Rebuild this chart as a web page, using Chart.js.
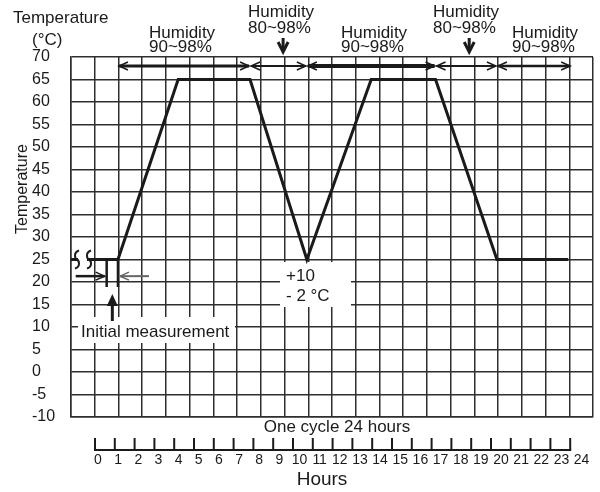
<!DOCTYPE html>
<html>
<head>
<meta charset="utf-8">
<script src="https://cdn.jsdelivr.net/npm/chart.js@4.4.1/dist/chart.umd.min.js"></script>
<style>
  html, body { margin: 0; padding: 0; background: #fff; }
  #wrap { width: 600px; height: 492px; }
</style>
</head>
<body>
<div id="wrap"><canvas id="myChart" width="600" height="492"></canvas></div>
<script>
// temperature profile (hours, degC)
var profileHours = [-1.21, 1.16, 4.2, 7.83, 10.7, 13.95, 17.2, 20.3, 23.9];
var profileTemps = [25, 25, 65, 65, 25, 65, 65, 25, 25];

// humidity phases: boundaries in hours and the range of each phase
var humidityBounds = [1.16, 7.83, 10.7, 17.2, 20.3, 24.05];
var humidityRanges = ["90~98%", "80~98%", "90~98%", "80~98%", "90~98%"];

// tick labels
var tempTicks = [-10, -5, 0, 5, 10, 15, 20, 25, 30, 35, 40, 45, 50, 55, 60, 65, 70];
var hourTicks = [0, 1, 2, 3, 4, 5, 6, 7, 8, 9, 10, 11, 12, 13, 14, 15, 16, 17, 18, 19, 20, 21, 22, 23, 24];

// initial measurement window (hours) and the tolerance note
var initialWindow = [0.59, 1.16];
var toleranceText = ["+10", "- 2 \u00b0C"];

var FONT = "'Liberation Sans', Arial, sans-serif";
var INK = "#1a1a1a";

function chevron(ctx, x, y, dir) {

  ctx.beginPath();
  ctx.moveTo(x - dir * 9, y - 4);
  ctx.lineTo(x, y);
  ctx.lineTo(x - dir * 9, y + 4);
  ctx.stroke();
}

function hline(ctx, x1, x2, y, w) {

  ctx.lineWidth = w;
  ctx.beginPath();
  ctx.moveTo(x1, y);
  ctx.lineTo(x2, y);
  ctx.stroke();
}

function squiggle(ctx, x, y) {

  ctx.beginPath();
  ctx.moveTo(x + 2, y - 9);
  ctx.bezierCurveTo(x - 4, y - 7, x - 2, y - 1, x, y);
  ctx.bezierCurveTo(x + 2, y + 1, x + 4, y + 7, x - 2, y + 9);
  ctx.stroke();
}

function downArrow(ctx, x) {

  ctx.lineWidth = 3;
  ctx.beginPath();
  ctx.moveTo(x, 38);
  ctx.lineTo(x, 50);
  ctx.stroke();
  ctx.beginPath();
  ctx.moveTo(x - 5, 42);
  ctx.lineTo(x, 52);
  ctx.lineTo(x + 5, 42);
  ctx.stroke();
}

var annotations = {
  id: "annotations",

  beforeDatasetsDraw: function(chart) {

    var ctx = chart.ctx;
    ctx.save();
    ctx.fillStyle = "#fff";
    ctx.fillRect(78, 317, 157, 26);   // "Initial measurement"
    ctx.fillRect(280, 262, 71, 45);   // tolerance note
    ctx.restore();
  },

  afterDatasetsDraw: function(chart) {

    var ctx = chart.ctx;
    var hx = chart.scales.hours;
    var y = chart.scales.y;

    ctx.save();
    ctx.strokeStyle = INK;
    ctx.fillStyle = INK;
    ctx.lineCap = "butt";

    // break marks on the 25 degree line
    var y25 = y.getPixelForValue(25);
    ctx.fillStyle = "#fff";
    ctx.fillRect(78, y25 - 3, 9, 6);
    ctx.fillStyle = INK;
    ctx.lineWidth = 2;
    squiggle(ctx, 77, y25);
    squiggle(ctx, 89, y25);

    // humidity arrows
    var widths = [3, 2, 4, 2, 2.5];
    var ya = 66;
    for (var i = 0; i < humidityRanges.length; i++) {

      var x1 = hx.getPixelForValue(humidityBounds[i]);
      var x2 = hx.getPixelForValue(humidityBounds[i + 1]);
      hline(ctx, x1 + 1, x2 - 1, ya, widths[i]);
      ctx.lineWidth = 1.5;
      chevron(ctx, x1 + 1, ya, -1);
      chevron(ctx, x2 - 1, ya, 1);
    }

    // humidity labels
    var labelX = [149, 248, 341, 433, 512];
    ctx.font = "17px " + FONT;
    ctx.textAlign = "left";
    ctx.textBaseline = "alphabetic";
    for (var i = 0; i < humidityRanges.length; i++) {

      var up = humidityRanges[i] == "80~98%";
      var base = up ? 17 : 38;
      ctx.fillText("Humidity", labelX[i], base);
      ctx.fillText(humidityRanges[i], labelX[i], base + (up ? 16 : 14));
    }
    downArrow(ctx, hx.getPixelForValue(9.5));
    downArrow(ctx, hx.getPixelForValue(18.9));

    // axis titles
    ctx.fillText("Temperature", 13, 23);
    ctx.fillText("(\u00b0C)", 32, 45);

    ctx.save();
    ctx.translate(23, 189);
    ctx.rotate(-Math.PI / 2);
    ctx.font = "16px " + FONT;
    ctx.textAlign = "center";
    ctx.textBaseline = "middle";
    ctx.fillText("Temperature", 0, 0);
    ctx.restore();

    // initial measurement
    var xa = hx.getPixelForValue(initialWindow[0]);
    var xb = hx.getPixelForValue(initialWindow[1]);
    var yLow = y.getPixelForValue(18.9);
    ctx.lineWidth = 2.5;
    ctx.beginPath();
    ctx.moveTo(xa, y25);
    ctx.lineTo(xa, yLow);
    ctx.moveTo(xb, y25);
    ctx.lineTo(xb, yLow);
    ctx.stroke();

    var ym = y.getPixelForValue(21.3);
    hline(ctx, xa - 31, xa - 2, ym, 2.5);
    ctx.lineWidth = 1.5;
    chevron(ctx, xa - 2, ym, 1);
    ctx.strokeStyle = "#666";
    hline(ctx, xb + 2, xb + 31, ym, 2);
    ctx.lineWidth = 1.5;
    chevron(ctx, xb + 2, ym, -1);
    ctx.strokeStyle = INK;

    var xc = (xa + xb) / 2;
    hline(ctx, 0, 0, 0, 0);
    ctx.lineWidth = 3;
    ctx.beginPath();
    ctx.moveTo(xc, 321);
    ctx.lineTo(xc, 303);
    ctx.stroke();
    ctx.beginPath();
    ctx.moveTo(xc, 294);
    ctx.lineTo(xc - 5.5, 306);
    ctx.lineTo(xc + 5.5, 306);
    ctx.closePath();
    ctx.fill();

    ctx.font = "17px " + FONT;
    ctx.fillText("Initial measurement", 81, 337);

    // tolerance note
    ctx.fillText(toleranceText[0], 286, 281);
    ctx.fillText(toleranceText[1], 286, 301);

    // one cycle
    ctx.textAlign = "center";
    ctx.fillText("One cycle 24 hours", 337, 432);

    // hours ruler
    var x0 = hx.getPixelForValue(hourTicks[0]);
    var xn = hx.getPixelForValue(hourTicks[hourTicks.length - 1]);
    var yr = 450;
    hline(ctx, x0 - 1, xn + 1, yr, 2);
    ctx.lineWidth = 2;
    ctx.font = "14px 'Liberation Sans Narrow', " + FONT;
    for (var i = 0; i < hourTicks.length; i++) {

      var tx = hx.getPixelForValue(hourTicks[i]);
      ctx.beginPath();
      ctx.moveTo(tx, yr);
      ctx.lineTo(tx, yr - 12);
      ctx.stroke();
      ctx.fillText(String(hourTicks[i]), tx + 3 + hourTicks[i] * 0.35, 464);
    }

    ctx.font = "19px " + FONT;
    ctx.fillText("Hours", 322, 485);

    ctx.restore();
  }
};

function buildPoints() {

  var points = [];

  for (var i = 0; i < profileHours.length; i++) {

    points.push({ x: profileHours[i], y: profileTemps[i] });
  }

  return points;
}

function init() {

  var ctx = document.getElementById("myChart");
  var gridColor = "#2e2e2e";

  var myChart = new Chart(ctx, {
    type: "line",
    data: {
      datasets: [
        {
          data: buildPoints(),
          xAxisID: "hours",
          yAxisID: "y",
          borderColor: INK,
          borderWidth: 3,
          pointRadius: 0,
          tension: 0,
          fill: false
        }
      ]
    },
    options: {
      responsive: false,
      animation: false,
      devicePixelRatio: 1,
      layout: {
        padding: { left: 32, top: 57, right: 7, bottom: 75 }
      },
      plugins: {
        legend: { display: false },
        tooltip: { enabled: false }
      },
      scales: {
        x: {
          type: "linear",
          position: "bottom",
          min: 0,
          max: 22,
          ticks: { display: false, stepSize: 1 },
          grid: { color: gridColor, lineWidth: 1.5, drawTicks: false },
          border: { color: gridColor, width: 1.5 },
          afterFit: function(scale) { scale.height = 0; }
        },
        hours: {
          type: "linear",
          display: false,
          min: -1.212,
          max: 25.152
        },
        y: {
          type: "linear",
          position: "left",
          min: tempTicks[0],
          max: tempTicks[tempTicks.length - 1],
          afterBuildTicks: function(scale) {
            scale.ticks = tempTicks.map(function(v) { return { value: v }; });
          },
          ticks: {
            color: INK,
            font: { family: FONT, size: 16 },
            crossAlign: "far",
            padding: 0
          },
          grid: { color: gridColor, lineWidth: 1.5, drawTicks: false },
          border: { color: gridColor, width: 1.5 },
          afterFit: function(scale) { scale.width = 39; }
        }
      }
    },
    plugins: [annotations]
  });
}

init();
</script>
</body>
</html>
